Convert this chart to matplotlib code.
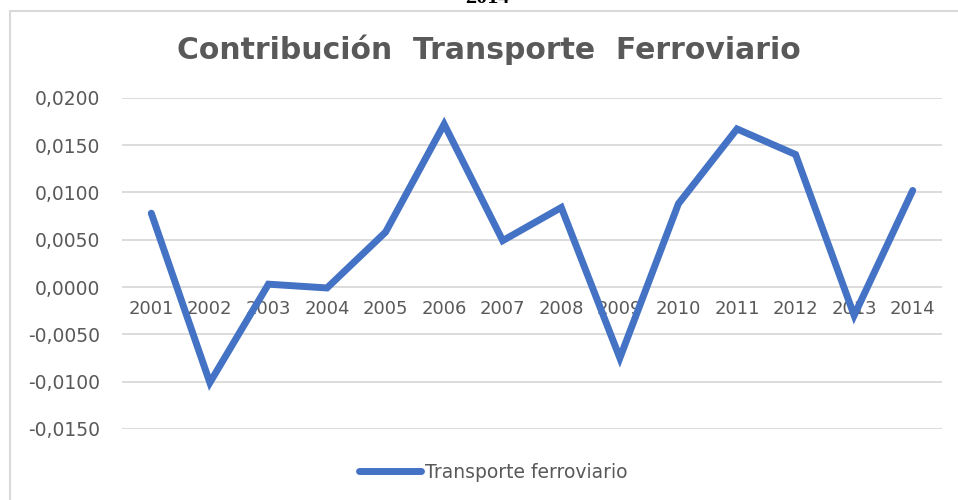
import matplotlib
matplotlib.use("Agg")
import matplotlib.pyplot as plt
from matplotlib.patches import Rectangle
from matplotlib.ticker import FuncFormatter

years = ["2001", "2002", "2003", "2004", "2005", "2006", "2007",
         "2008", "2009", "2010", "2011", "2012", "2013", "2014"]
values = [0.0078, -0.0101, 0.0003, -0.0001, 0.0058, 0.0172, 0.0049,
          0.0084, -0.0075, 0.0088, 0.0167, 0.0140, -0.0030, 0.0102]
yticks = [-0.015, -0.010, -0.005, 0.0, 0.005, 0.010, 0.015, 0.020]
series_name = "Transporte ferroviario"
title = "Contribución  Transporte  Ferroviario"
top_text = "2014"

W, H = 958, 500
fig = plt.figure(figsize=(W / 100, H / 100), dpi=100)
fig.patch.set_facecolor("white")

# chart border (clipped on right and bottom)
fig.patches.append(Rectangle((10 / W, -0.2), 1.2, (H - 11) / H + 0.2,
                             transform=fig.transFigure, fill=False,
                             edgecolor="#D9D9D9", linewidth=1.5))

ax = fig.add_axes([122 / W, 71 / H, (942 - 122) / W, (429 - 97.7) / H])
x = list(range(len(years)))
ax.plot(x, values, color="#4472C4", linewidth=5, solid_joinstyle="miter",
        solid_capstyle="round", label=series_name, zorder=3)

ax.set_xlim(-0.5, len(years) - 0.5)
ax.set_ylim(yticks[0], yticks[-1])
ax.set_yticks(yticks)
ax.yaxis.set_major_formatter(FuncFormatter(lambda v, p: f"{v:.4f}".replace(".", ",").replace("-0,0000", "0,0000")))
ax.set_xticks(x)
ax.set_xticklabels(years)
ax.grid(axis="y", color="#D9D9D9", linewidth=1.3)
ax.set_axisbelow(True)
for s in ["top", "right", "left"]:
    ax.spines[s].set_visible(False)
ax.spines["bottom"].set_position(("data", 0))
ax.spines["bottom"].set_visible(False)
ax.tick_params(axis="both", length=0, colors="#595959")
ax.tick_params(axis="y", labelsize=13.5, pad=16)
ax.tick_params(axis="x", labelsize=13, pad=9)
for lab in ax.get_xticklabels() + ax.get_yticklabels():
    lab.set_family("DejaVu Sans")

fig.text(489 / W, 1 - 50 / H, title, ha="center", va="center",
         fontsize=21.5, fontweight="bold", color="#595959",
         family="DejaVu Sans")

fig.text(487 / W, 1 - 3 / H, top_text, ha="center", va="baseline",
         fontsize=16, fontweight="bold", color="black",
         family="Liberation Serif")

leg = fig.legend(loc="center", bbox_to_anchor=(493 / W, 1 - 472 / H),
                 frameon=False, fontsize=13.5, handlelength=3.3,
                 handletextpad=0.2)
for t in leg.get_texts():
    t.set_color("#595959")

fig.savefig("out.png", dpi=100, facecolor="white")
